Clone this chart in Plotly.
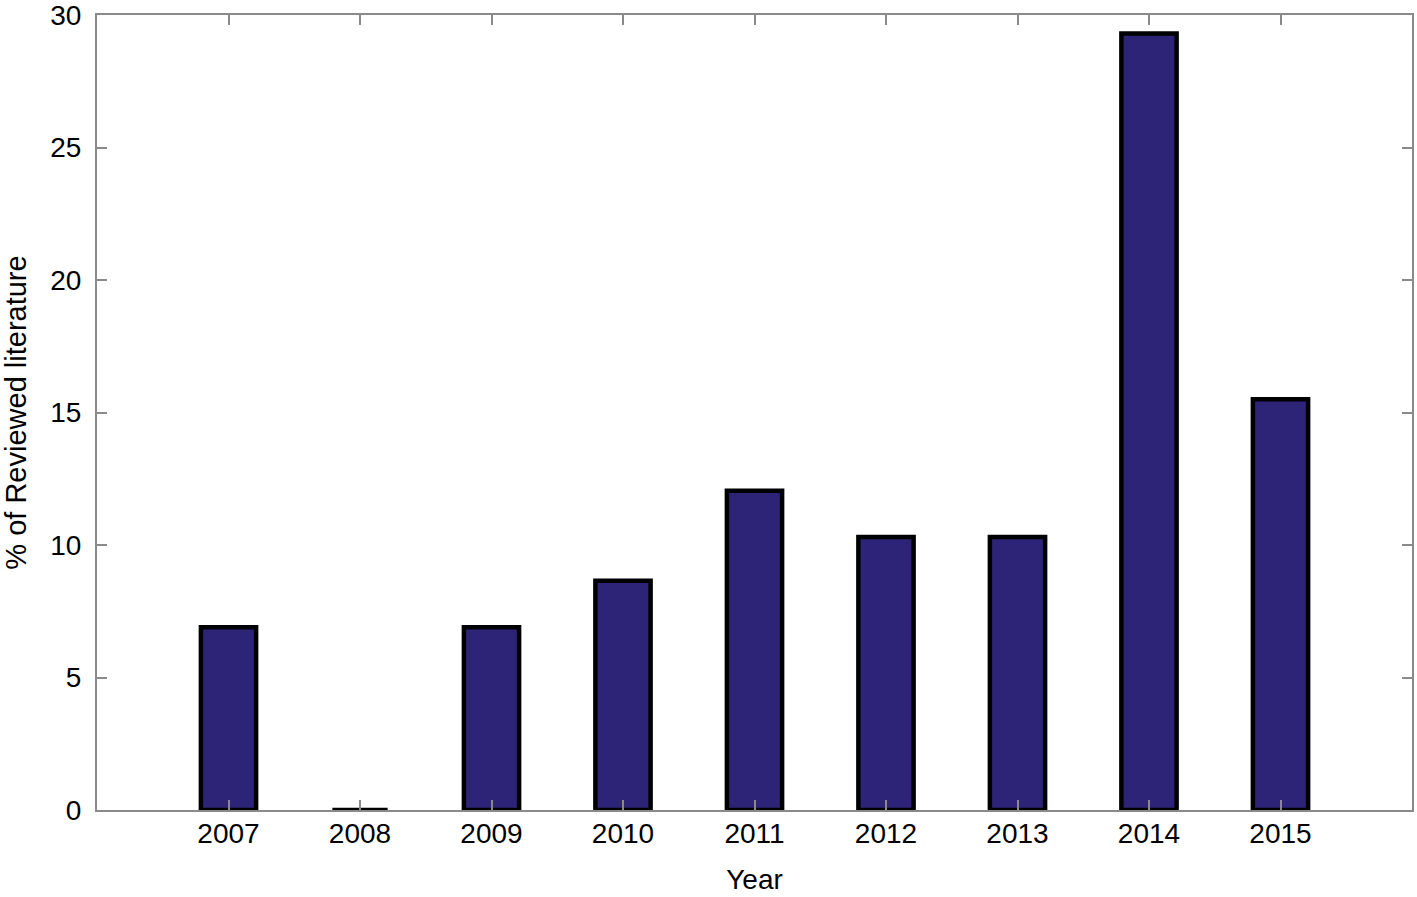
import plotly.graph_objects as go

years = [2007, 2008, 2009, 2010, 2011, 2012, 2013, 2014, 2015]
percent = [6.9, 0.0, 6.9, 8.65, 12.05, 10.3, 10.3, 29.3, 15.5]
y_ticks = [0, 5, 10, 15, 20, 25, 30]

FONT = "Liberation Sans, Arial, sans-serif"

fig = go.Figure()
fig.add_trace(go.Bar(
    x=years, y=percent, width=0.42,
    marker=dict(color="#2e2477", line=dict(color="#000000", width=4.5)),
))

axis_common = dict(
    showline=True, linecolor="#8a8a8a", linewidth=2, mirror="ticks",
    ticks="inside", ticklen=10, tickwidth=2, tickcolor="#8a8a8a",
    showgrid=False, zeroline=False, automargin=False,
    ticklabeloverflow="allow",
    tickfont=dict(family=FONT, size=28, color="#000"),
)

fig.update_xaxes(
    range=[2006, 2016], tickvals=years, ticktext=[str(y) for y in years],
    ticklabelstandoff=-3,
    title=dict(text="Year", font=dict(family=FONT, size=28, color="#000"), standoff=22),
    **axis_common,
)
fig.update_yaxes(
    range=[0, 30], tickvals=y_ticks,
    ticklabelstandoff=8,
    title=dict(text="% of Reviewed literature", font=dict(family=FONT, size=29, color="#000"), standoff=32),
    **axis_common,
)

fig.update_layout(
    width=1417, height=897,
    margin=dict(l=97, r=5, t=15, b=87),
    plot_bgcolor="white", paper_bgcolor="white",
    showlegend=False,
)

fig.write_html(
    "out.html",
    config={"displayModeBar": False},
    post_script="document.body.style.margin='0';document.body.style.overflow='hidden';",
)
